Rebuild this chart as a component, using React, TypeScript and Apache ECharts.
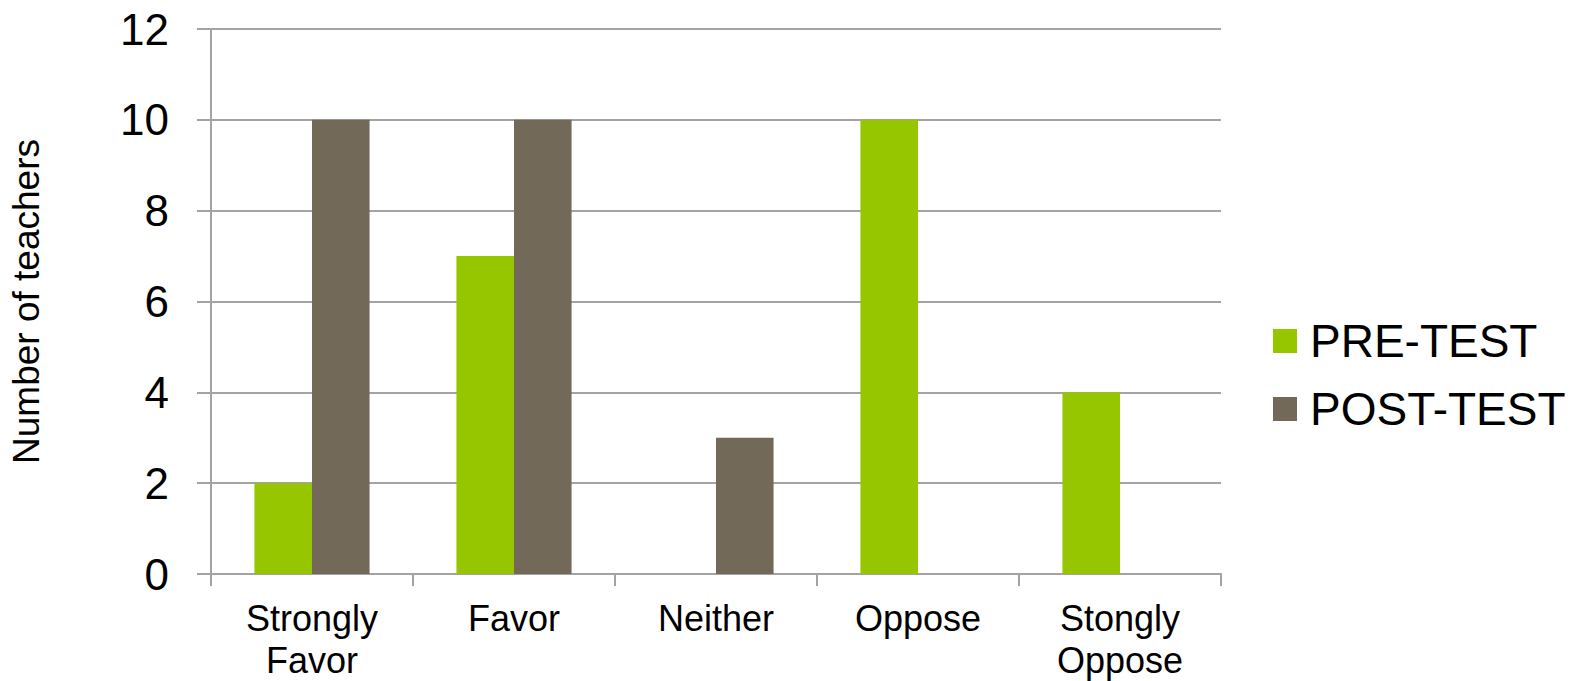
import React, { useEffect, useRef } from "react";
import * as echarts from "echarts";

const categories = ["Strongly\nFavor", "Favor", "Neither", "Oppose", "Stongly\nOppose"];
const preTest = [2, 7, 0, 10, 4];
const postTest = [10, 10, 3, 0, 0];
const seriesNames = ["PRE-TEST", "POST-TEST"];
const yTicks = { min: 0, max: 12, interval: 2 };
const axisTitle = "Number of teachers";

const FONT = "'Liberation Sans', Arial, Helvetica, sans-serif";
const GRID_COLOR = "#a3a3a3";

export default function App() {
  const ref = useRef<HTMLDivElement>(null);

  useEffect(() => {
    document.body.style.margin = "0";
    if (!ref.current) return;
    const chart = echarts.init(ref.current, undefined, { renderer: "svg" });
    chart.setOption({
      animation: false,
      backgroundColor: "#ffffff",
      textStyle: { fontFamily: FONT },
      grid: { left: 208, top: 29, right: 361, bottom: 106.5, containLabel: false },
      legend: {
        orient: "vertical",
        left: 1268,
        top: 313,
        icon: "rect",
        itemWidth: 24,
        itemHeight: 24,
        itemGap: 22,
        data: seriesNames,
        textStyle: {
          fontFamily: FONT,
          fontSize: 46,
          lineHeight: 46,
          color: "#000000",
          padding: [0, 0, 0, 8],
        },
      },
      xAxis: {
        type: "category",
        data: categories,
        axisLine: { show: true, lineStyle: { color: GRID_COLOR, width: 2 } },
        axisTick: { show: true, length: 12, lineStyle: { color: GRID_COLOR, width: 2 } },
        axisLabel: {
          color: "#000000",
          fontFamily: FONT,
          fontSize: 36,
          lineHeight: 42,
          margin: 23,
          interval: 0,
        },
        splitLine: { show: false },
      },
      yAxis: {
        type: "value",
        min: yTicks.min,
        max: yTicks.max,
        interval: yTicks.interval,
        name: axisTitle,
        nameLocation: "middle",
        nameGap: 166,
        nameRotate: 90,
        nameTextStyle: { color: "#000000", fontFamily: FONT, fontSize: 37 },
        axisLine: { show: true, lineStyle: { color: GRID_COLOR, width: 2 } },
        axisTick: { show: true, length: 14, lineStyle: { color: GRID_COLOR, width: 2 } },
        axisLabel: { color: "#000000", fontFamily: FONT, fontSize: 44, margin: 42 },
        splitLine: { show: true, lineStyle: { color: GRID_COLOR, width: 2 } },
      },
      series: [
        {
          name: seriesNames[0],
          type: "bar",
          data: preTest,
          itemStyle: { color: "#95c600" },
          barGap: "0%",
          barCategoryGap: "43%",
        },
        {
          name: seriesNames[1],
          type: "bar",
          data: postTest,
          itemStyle: { color: "#736958" },
          barGap: "0%",
          barCategoryGap: "43%",
        },
      ],
    });
    return () => chart.dispose();
  }, []);

  return (
    <div
      ref={ref}
      style={{ position: "absolute", left: 0, top: 0, width: 1582, height: 681 }}
    />
  );
}
